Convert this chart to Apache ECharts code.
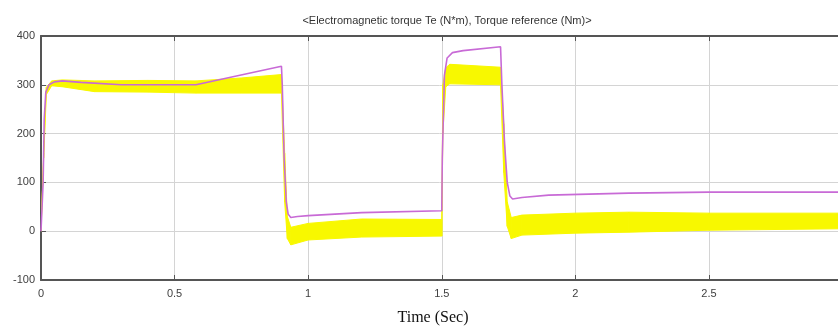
<!DOCTYPE html>
<html>
<head>
<meta charset="utf-8">
<script src="https://cdn.jsdelivr.net/npm/echarts@6/dist/echarts.min.js"></script>
<style>
  html, body { margin: 0; padding: 0; background: #fff; }
  #chart { width: 838px; height: 331px; }
</style>
</head>
<body>
<div id="chart"></div>
<script>
// time ticks / value ticks
var xTicks = [0, 0.5, 1, 1.5, 2, 2.5];
var yTicks = [-100, 0, 100, 200, 300, 400];

// Te (yellow, noisy) given as lower / upper envelope
var teTime = [0, 0.01, 0.02, 0.04, 0.08, 0.2, 0.4, 0.58, 0.75, 0.9, 0.912, 0.922, 0.935, 1.0, 1.2, 1.5, 1.504, 1.515, 1.53, 1.72, 1.732, 1.745, 1.76, 1.8, 2.0, 2.2, 2.5, 3.0];
var teLow  = [0, 150, 280, 298, 296, 286, 285, 283, 283, 283, 60, -15, -28, -18, -12, -10, 200, 296, 302, 300, 120, 10, -15, -8, -4, -2, 2, 5];
var teHigh = [0, 160, 295, 308, 310, 308, 309, 308, 314, 321, 160, 30, 8, 16, 25, 24, 300, 335, 342, 336, 220, 60, 28, 33, 37, 39, 37, 37];

// torque reference (magenta)
var refTime = [0, 0.005, 0.008, 0.012, 0.018, 0.03, 0.05, 0.08, 0.15, 0.3, 0.58, 0.9, 0.903, 0.91, 0.918, 0.925, 0.935, 0.96, 1.0, 1.2, 1.5, 1.502, 1.51, 1.52, 1.54, 1.58, 1.72, 1.725, 1.735, 1.745, 1.755, 1.765, 1.8, 1.9, 2.2, 2.5, 3.0];
var refVal  = [0, 0, 100, 230, 285, 300, 306, 308, 305, 300, 300, 338, 300, 150, 60, 35, 28, 30, 32, 38, 42, 150, 320, 355, 366, 370, 378, 300, 180, 100, 72, 66, 69, 74, 78, 80, 80];

var chart = echarts.init(document.getElementById('chart'));

var bandData = [], refPts = [];
for (var i = 0; i < teTime.length; i++) {
  bandData.push([teTime[i], teLow[i], teHigh[i]]);
}
for (var j = 0; j < refTime.length; j++) {
  refPts.push([refTime[j], refVal[j]]);
}

// one quad per step between envelope samples
function renderBand(params, api) {
  var i = params.dataIndex;
  if (i >= bandData.length - 1) return null;
  var a = bandData[i], b = bandData[i + 1];
  var pts = [
    api.coord([a[0], a[1]]),
    api.coord([b[0], b[1]]),
    api.coord([b[0], b[2]]),
    api.coord([a[0], a[2]])
  ];
  return {
    type: 'polygon',
    shape: { points: pts },
    style: { fill: '#f8f800', stroke: '#f8f800', lineWidth: 1 }
  };
}

var labelFont = { fontFamily: 'Liberation Sans, Arial, sans-serif', fontSize: 11, color: '#404040' };
var frame = { show: true, onZero: false, lineStyle: { color: '#555', width: 2 } };

var option = {
  backgroundColor: '#fff',
  animation: false,
  title: [
    {
      text: '<Electromagnetic torque Te (N*m), Torque reference (Nm)>',
      left: 442, top: 10, textAlign: 'center',
      textStyle: { fontFamily: 'Liberation Sans, Arial, sans-serif', fontSize: 11, fontWeight: 'normal', color: '#333' }
    },
    {
      text: 'Time (Sec)',
      left: 428, top: 305, textAlign: 'center',
      textStyle: { fontFamily: 'Liberation Serif, Times New Roman, serif', fontSize: 16, fontWeight: 'normal', color: '#111' }
    }
  ],
  grid: { left: 41, top: 36, right: 0, bottom: 51 },
  xAxis: [
    {
      type: 'value', min: 0, max: 2.983, interval: 0.5,
      axisLine: frame,
      axisTick: { show: true, inside: true, length: 5, lineStyle: { color: '#555' } },
      axisLabel: Object.assign({ margin: 8, showMaxLabel: false, formatter: function (v) { return xTicks.indexOf(v) >= 0 ? String(v) : ''; } }, labelFont),
      splitLine: { show: true, lineStyle: { color: '#d4d4d4', width: 1 } }
    },
    {
      type: 'value', position: 'top', min: 0, max: 2.983, interval: 0.5,
      axisLine: frame,
      axisTick: { show: true, inside: true, length: 5, lineStyle: { color: '#555' } },
      axisLabel: { show: false },
      splitLine: { show: false }
    }
  ],
  yAxis: {
    type: 'value', min: yTicks[0], max: yTicks[yTicks.length - 1], interval: 100,
    axisLine: frame,
    axisTick: { show: true, inside: true, length: 5, lineStyle: { color: '#555' } },
    axisLabel: Object.assign({ margin: 6 }, labelFont),
    splitLine: { show: true, lineStyle: { color: '#d4d4d4', width: 1 } }
  },
  series: [
    {
      name: 'Te', type: 'custom', data: bandData,
      encode: { x: 0, y: [1, 2] },
      renderItem: renderBand, clip: true, silent: true
    },
    {
      name: 'Torque reference', type: 'line', data: refPts,
      symbol: 'none', lineStyle: { width: 1.6, color: '#c86ad6' }
    }
  ]
};

chart.setOption(option);
</script>
</body>
</html>
